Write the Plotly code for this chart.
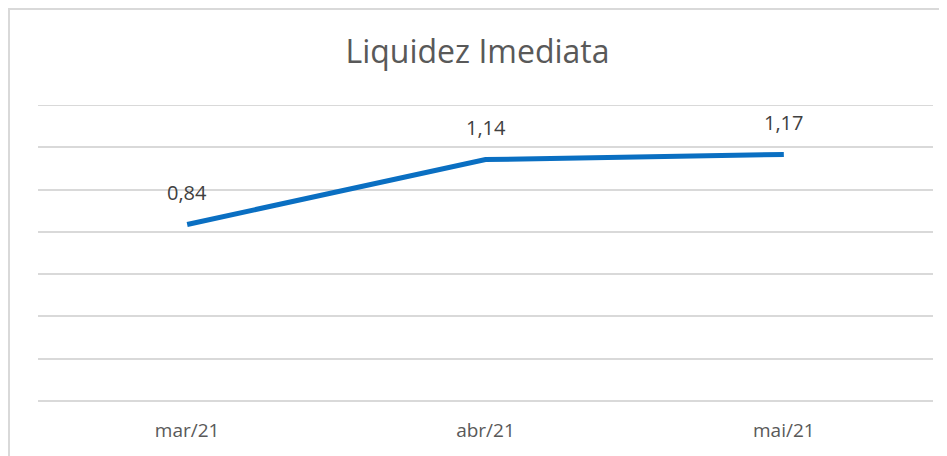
import plotly.graph_objects as go

categories = ["mar/21", "abr/21", "mai/21"]
values = [0.835, 1.142, 1.166]
value_labels = ["0,84", "1,14", "1,17"]
title_text = "Liquidez Imediata"

# page body has an 8px margin; compensate so the picture lands like the reference
OFF = 8
W, H = 947 - OFF, 456 - OFF
L, R, T = 38 - OFF, 14, 105 - OFF
ph = 296
B = H - T - ph
pw = W - L - R
YMAX = 1.4

fig = go.Figure()
fig.add_trace(go.Scatter(
    x=categories, y=values, mode="lines",
    line=dict(color="#0A6FC2", width=5),
    hoverinfo="skip", showlegend=False,
))

for c, v, t in zip(categories, values, value_labels):
    fig.add_annotation(
        x=c, y=v, text=t,
        showarrow=False, yshift=32,
        font=dict(family="Open Sans", size=20, color="#404040"),
    )

# top gridline at the range edge
fig.add_shape(
    type="line", xref="paper", yref="y", x0=0, x1=1, y0=YMAX, y1=YMAX,
    line=dict(color="#D9D9D9", width=2), layer="below",
)

# outer chart frame
fig.add_shape(
    type="rect", xref="paper", yref="paper",
    x0=(1 - L) / pw, x1=(W + 10 - L) / pw,
    y0=-(H + 10 - T - ph) / ph, y1=1 + (T - 1) / ph,
    line=dict(color="#D9D9D9", width=2), fillcolor="rgba(0,0,0,0)",
    layer="below",
)

fig.update_layout(
    width=W, height=H,
    margin=dict(l=L, r=R, t=T, b=B),
    paper_bgcolor="white", plot_bgcolor="white",
    title=dict(
        text=title_text, x=0.5, xanchor="center",
        y=1 - (52 - OFF) / H, yanchor="middle",
        font=dict(family="Open Sans", size=32, color="#595959"),
    ),
    xaxis=dict(
        range=[-0.5, 2.5],
        showgrid=False, showline=False, zeroline=False,
        ticks="", tickfont=dict(family="Open Sans", size=19, color="#595959"),
        ticklabelstandoff=16,
    ),
    yaxis=dict(
        range=[0, YMAX], dtick=0.2, showticklabels=False,
        showgrid=True, gridcolor="#D9D9D9", gridwidth=1.5,
        zeroline=True, zerolinecolor="#D9D9D9", zerolinewidth=1.5,
        showline=False, ticks="",
    ),
)

fig.write_html("out.html")
